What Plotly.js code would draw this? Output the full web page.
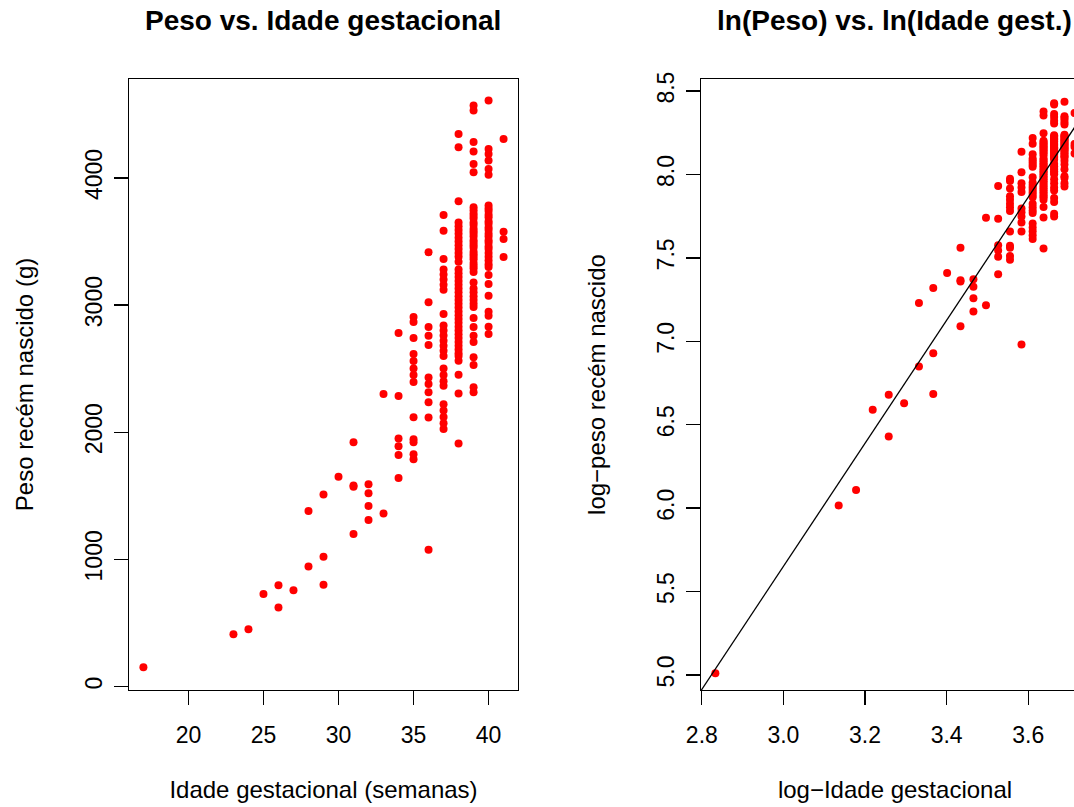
<!DOCTYPE html>
<html><head><meta charset="utf-8">
<script src="https://cdn.plot.ly/plotly-3.0.1.min.js"></script>
<style>html,body{margin:0;padding:0;overflow:hidden;background:#fff}</style>
</head><body><div id="c" style="width:1150px;height:807px"></div>
<script>
// Birth weight (g) by gestational age (weeks)
const weeks = [17,23,24,25,26,27,28,29,30,31,32,33,34,35,36,37,38,39,40,41];
const weights = [
  [150],
  [410],
  [450],
  [728],
  [796,620],
  [757],
  [943,1380],
  [1020,800,1510],
  [1650],
  [1580,1570,1200,1920],
  [1590,1520,1420,1310],
  [1360,2300],
  [1640,1950,1890,1820,2285,2780],
  [2906,2866,2740,2614,2560,2500,2450,2394,2118,1945,1921,1827,1787],
  [1075,3415,3021,2827,2758,2685,2430,2378,2315,2236,2116],
  [3709,3585,3362,3280,3240,3200,3160,3120,2929,2840,2800,2760,2720,2680,2640,2600,2500,2450,2400,2365,2220,2170,2120,2070,2025],
  [4346,4241,3816,3650,3620,3590,3560,3530,3500,3470,3440,3410,3380,3340,3280,3250,3220,3190,3160,3130,3100,3070,3040,3010,2980,2950,2920,2890,2860,2830,2800,2770,2740,2710,2680,2650,2620,2600,2561,2451,2304,1911],
  [4569,4530,4283,4207,4110,4045,3770,3745,3720,3700,3680,3650,3630,3600,3580,3560,3540,3510,3490,3470,3450,3420,3400,3380,3360,3330,3310,3290,3260,3178,3130,3100,3070,3040,3010,2985,2898,2827,2758,2709,2590,2528,2354,2315],
  [4609,4228,4189,4137,4071,4024,3782,3760,3740,3710,3690,3660,3640,3610,3590,3560,3540,3510,3490,3460,3440,3410,3380,3350,3320,3300,3236,3165,3073,2947,2916,2829,2772],
  [4307,3577,3520,3378]
];
// fitted line on log scale: ln(peso) = a + b*ln(idade)
const fitA = -5.41, fitB = 3.687;

const xs=[], ys=[];
weeks.forEach((w,i)=>weights[i].forEach(v=>{xs.push(w);ys.push(v);}));
const lx = xs.map(Math.log), ly = ys.map(Math.log);
const lineX = [2.7, 3.9];
const lineY = lineX.map(x=>fitA+fitB*x);

const W=1150,H=807;
const ff='Liberation Sans, Arial, sans-serif';
const font={family:ff,size:23,color:'#000'};
const tfont={family:ff,size:24,color:'#000'};
const ax = (o)=>Object.assign({showline:true,mirror:true,linecolor:'#000',linewidth:1.3,ticks:'outside',ticklen:14,tickwidth:1.3,tickcolor:'#000',showgrid:false,zeroline:false,tickfont:font},o);

const data=[
  {x:xs,y:ys,type:'scatter',mode:'markers',marker:{color:'#ff0000',size:8},xaxis:'x',yaxis:'y',hoverinfo:'skip'},
  {x:lx,y:ly,type:'scatter',mode:'markers',marker:{color:'#ff0000',size:8},xaxis:'x2',yaxis:'y2',hoverinfo:'skip'},
  {x:lineX,y:lineY,type:'scatter',mode:'lines',line:{color:'#000',width:1.3},xaxis:'x2',yaxis:'y2',hoverinfo:'skip'}
];
const yd=[(H-690)/H,(H-79)/H];
const layout={
  width:W,height:H,margin:{l:0,r:0,t:0,b:0},showlegend:false,
  paper_bgcolor:'#fff',plot_bgcolor:'#fff',font:font,
  xaxis:ax({domain:[129/W,518/W],range:[16.04,41.96],tickvals:[20,25,30,35,40],ticklabelstandoff:10,
    title:{text:'Idade gestacional (semanas)',font:tfont,standoff:34}}),
  yaxis:ax({domain:yd,range:[-28,4778],tickvals:[0,1000,2000,3000,4000],tickangle:-90,ticklabelstandoff:3,
    title:{text:'Peso recém nascido (g)',font:tfont,standoff:40}}),
  xaxis2:ax({domain:[701/W,1089/W],range:[2.798,3.749],tickvals:[2.8,3.0,3.2,3.4,3.6],ticktext:['2.8','3.0','3.2','3.4','3.6'],ticklabelstandoff:10,anchor:'y2',
    title:{text:'log−Idade gestacional',font:tfont,standoff:34}}),
  yaxis2:ax({domain:yd,range:[4.91,8.572],tickvals:[5,5.5,6,6.5,7,7.5,8,8.5],ticktext:['5.0','5.5','6.0','6.5','7.0','7.5','8.0','8.5'],tickangle:-90,ticklabelstandoff:3,anchor:'x2',
    title:{text:'log−peso recém nascido',font:tfont,standoff:40}}),
  annotations:[
    {text:'<b>Peso vs. Idade gestacional</b>',xref:'paper',yref:'paper',x:323.5/W,y:1-20/H,showarrow:false,font:{family:ff,size:28,color:'#000'},xanchor:'center',yanchor:'middle'},
    {text:'<b>ln(Peso) vs. ln(Idade gest.)</b>',xref:'paper',yref:'paper',x:895/W,y:1-20/H,showarrow:false,font:{family:ff,size:28,color:'#000'},xanchor:'center',yanchor:'middle'}
  ]
};
Plotly.newPlot('c',data,layout,{staticPlot:true});
</script></body></html>
